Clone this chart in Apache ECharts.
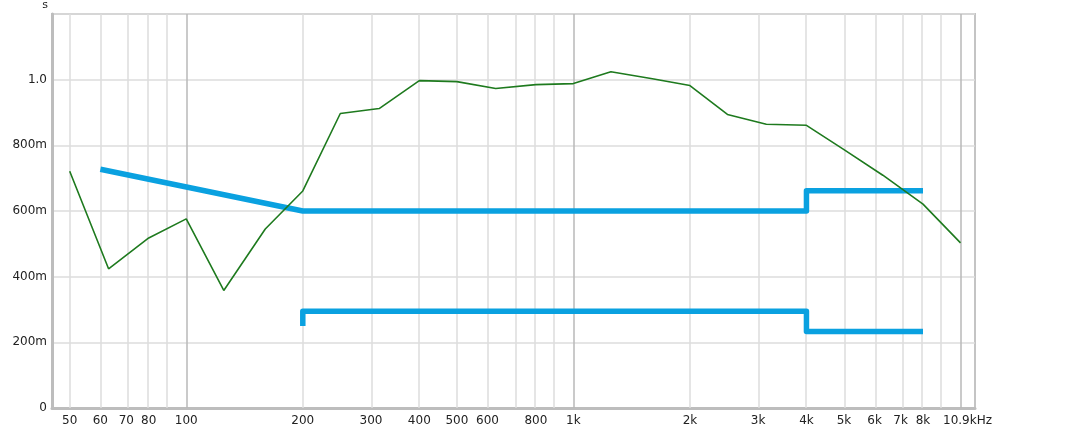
<!DOCTYPE html>
<html>
<head>
<meta charset="utf-8">
<script src="https://cdn.jsdelivr.net/npm/echarts@6/dist/echarts.min.js"></script>
<style>
html,body{margin:0;padding:0;background:#fff;}
#c{width:1076px;height:444px;}
</style>
</head>
<body>
<div id="c"></div>
<script>
// ---- data ----
const greenFreqs = [50,63,80,100,125,160,200,250,315,400,500,630,800,1000,1250,1600,2000,2500,3150,4000,5000,6300,8000,10000];
const greenValues = [0.721,0.424,0.518,0.576,0.358,0.545,0.661,0.897,0.912,0.997,0.994,0.973,0.985,0.988,1.024,1.003,0.982,0.894,0.864,0.861,0.787,0.709,0.621,0.503];

const upperFreqs = [60,200,4000,4000,8000];
const upperValues = [0.727,0.600,0.600,0.662,0.662];

const lowerFreqs = [200,200,4000,4000,8000];
const lowerValues = [0.250,0.295,0.295,0.233,0.233];

const xTickFreqs = [50,60,70,80,100,200,300,400,500,600,800,1000,2000,3000,4000,5000,6000,7000,8000,10000];
const xTickLabels = ['50','60','70','80','100','200','300','400','500','600','800','1k','2k','3k','4k','5k','6k','7k','8k','10.9kHz'];

const gridMinorFreqs = [50,60,70,80,90,200,300,400,500,600,700,800,900,2000,3000,4000,5000,6000,7000,8000,9000];
const gridMajorFreqs = [100,1000,10000];

const yTickValues = [0,0.2,0.4,0.6,0.8,1.0];
const yTickLabels = ['0','200m','400m','600m','800m','1.0'];

const xMinHz = 45, xMaxHz = 10900;

// ---- build ----
const L = Math.log10;
const pts = (f, v) => f.map((x, i) => [L(x), v[i]]);
const FONT = 'DejaVu Sans';

const gridLines = gridMinorFreqs.map(f => ({xAxis: L(f), lineStyle: {color: '#dcdcdc', width: 1.5, type: 'solid'}}))
  .concat(gridMajorFreqs.map(f => ({xAxis: L(f), lineStyle: {color: '#b9b9b9', width: 1.5, type: 'solid'}})));

const chart = echarts.init(document.getElementById('c'), null, {renderer: 'canvas'});
chart.setOption({
  animation: false,
  backgroundColor: '#ffffff',
  grid: {left: 52, right: 101, top: 13, bottom: 36, show: true, borderColor: '#c4c4c4', borderWidth: 2, backgroundColor: 'transparent'},
  xAxis: {
    type: 'value',
    min: L(xMinHz), max: L(xMaxHz),
    axisLine: {show: true, lineStyle: {color: '#bdbdbd', width: 3}},
    axisTick: {show: false},
    splitLine: {show: false},
    axisLabel: {
      customValues: xTickFreqs.map(L),
      margin: 7,
      color: '#222', fontFamily: FONT, fontSize: 12,
      formatter: function (v) {
        let best = 0, d = 1e9;
        xTickFreqs.forEach((f, i) => { const dd = Math.abs(L(f) - v); if (dd < d) { d = dd; best = i; } });
        if (best === xTickFreqs.length - 1) return '{last|' + xTickLabels[best] + '}';
        return xTickLabels[best];
      },
      rich: {last: {padding: [0, 0, 0, 14], color: '#222', fontFamily: FONT, fontSize: 12}}
    }
  },
  yAxis: {
    type: 'value', min: 0, max: 1.2, interval: 0.2,
    name: 's', nameLocation: 'end', nameGap: 3,
    nameTextStyle: {color: '#222', fontFamily: FONT, fontSize: 11, align: 'right', padding: [0, 4, 0, 0]},
    axisLine: {show: true, lineStyle: {color: '#bdbdbd', width: 3}},
    axisTick: {show: false},
    splitLine: {show: true, lineStyle: {color: '#dcdcdc', width: 1.5}},
    axisLabel: {
      margin: 5, color: '#222', fontFamily: FONT, fontSize: 12,
      formatter: function (v) {
        for (let i = 0; i < yTickValues.length; i++) if (Math.abs(yTickValues[i] - v) < 1e-6) return yTickLabels[i];
        return '';
      }
    }
  },
  series: [
    {
      type: 'line', z: 1, silent: true, showSymbol: false,
      data: [[L(100), 0]], lineStyle: {opacity: 0},
      markLine: {silent: true, z: 1, symbol: ['none', 'none'], label: {show: false}, animation: false, data: gridLines}
    },
    {
      type: 'line', z: 10, data: pts(upperFreqs, upperValues), showSymbol: false,
      lineStyle: {color: '#0aa1e0', width: 5.5, join: 'round', cap: 'butt'}
    },
    {
      type: 'line', z: 10, data: pts(lowerFreqs, lowerValues), showSymbol: false,
      lineStyle: {color: '#0aa1e0', width: 5.5, join: 'round', cap: 'butt'}
    },
    {
      type: 'line', z: 11, data: pts(greenFreqs, greenValues), showSymbol: false,
      lineStyle: {color: '#1e7a1e', width: 1.6}
    }
  ]
});
</script>
</body>
</html>
